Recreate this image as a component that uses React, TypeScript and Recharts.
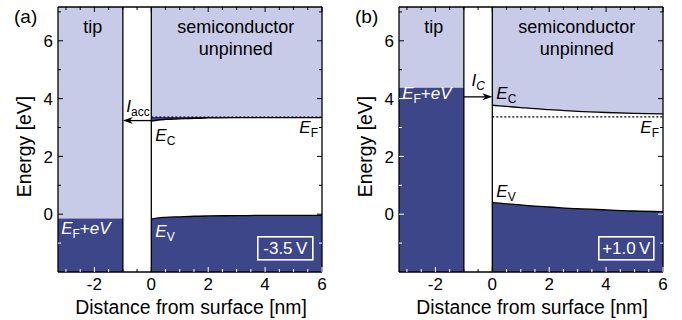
import React from "react"
import {
  ComposedChart,
  Area,
  Line,
  XAxis,
  YAxis,
  ReferenceArea,
  ReferenceLine,
  ReferenceDot,
  Label,
} from "recharts"

// axis ranges
const X_MIN = -3.28
const X_MAX = 6
const Y_MIN = -2
const Y_MAX = 7.17

const xTicks = [-3, -2.5, -2, -1.5, -1, -0.5, 0, 0.5, 1, 1.5, 2, 2.5, 3, 3.5, 4, 4.5, 5, 5.5, 6]
const xTickLabels = [-2, 0, 2, 4, 6]
const yTicks = [-1, 0, 1, 2, 3, 4, 5, 6, 7]
const yTickLabels = [0, 2, 4, 6]

// distance into semiconductor [nm]
const semiX = [0, 0.25, 0.5, 1, 1.5, 2, 3, 4, 5, 6]

// panel (a): -3.5 V
const ecA = [3.22, 3.26, 3.28, 3.3, 3.32, 3.33, 3.34, 3.34, 3.34, 3.34]
const evA = [-0.17, -0.13, -0.11, -0.09, -0.07, -0.06, -0.05, -0.04, -0.04, -0.04]

// panel (b): +1.0 V
const ecB = [3.77, 3.75, 3.73, 3.69, 3.65, 3.62, 3.56, 3.52, 3.49, 3.47]
const evB = [0.4, 0.38, 0.36, 0.32, 0.28, 0.25, 0.19, 0.15, 0.11, 0.09]

const efLevels = [3.36, 3.37]
const tipLevels = [-0.15, 4.38]
const biasLabels = ["-3.5\u2009V", "+1.0\u2009V"]
const panelLabels = ["(a)", "(b)"]

const LIGHT = "#c8cbe7"
const DARK = "#3c4689"
const FONT = "'Liberation Sans', Arial, Helvetica, sans-serif"

const sub = (s: string, italic = false) => (
  <tspan fontSize={12} dy={4} fontStyle={italic ? "italic" : "normal"}>
    {s}
  </tspan>
)

const textAt = (key: string, x: number, y: number, content: React.ReactNode, opts: any = {}) => (
  <ReferenceDot
    key={key}
    x={x}
    y={y}
    r={0}
    ifOverflow="visible"
    shape={(p: any) => (
      <text
        x={p.cx}
        y={p.cy}
        textAnchor={opts.anchor || "start"}
        fontSize={opts.size || 17}
        fill={opts.fill || "#000"}
      >
        {content}
      </text>
    )}
  />
)

// short inward tick drawn at a data point on the frame
const tickMark = (key: string, x: number, y: number, dx: number, dy: number, color: string) => (
  <ReferenceDot
    key={key}
    x={x}
    y={y}
    r={0}
    ifOverflow="visible"
    shape={(p: any) => (
      <line x1={p.cx} y1={p.cy} x2={p.cx + dx} y2={p.cy + dy} stroke={color} strokeWidth={1} />
    )}
  />
)

const arrowShape = (p: any) => {
  const { x1, y1, x2, y2 } = p
  const dir = Math.sign(x2 - x1)
  const len = 10
  const hw = 3.5
  const pts = [
    [x2, y2],
    [x2 - dir * len, y2 - hw],
    [x2 - dir * len * 0.7, y2],
    [x2 - dir * len, y2 + hw],
  ]
    .map((q) => q.join(","))
    .join(" ")
  return (
    <g>
      <line x1={x1} y1={y1} x2={x2 - dir * len * 0.7} y2={y2} stroke="#000" strokeWidth={1.3} />
      <polygon points={pts} fill="#000" />
    </g>
  )
}

const biasBox = (text: string) => (p: any) => (
  <g>
    <rect x={p.cx - 27.5} y={p.cy - 11.5} width={55} height={23} fill="none" stroke="#fff" strokeWidth={1.6} />
    <text x={p.cx} y={p.cy} dy="0.36em" textAnchor="middle" fill="#fff" fontSize={17}>
      {text}
    </text>
  </g>
)

function Panel({ idx, ec, ev }: { idx: number; ec: number[]; ev: number[] }) {
  const ef = efLevels[idx]
  const tip = tipLevels[idx]
  const data = semiX.map((x, i) => ({
    x,
    ec: ec[i],
    ev: ev[i],
    ef,
    upper: [ec[i], Y_MAX],
    lower: [Y_MIN, ev[i]],
    acc: [ec[i], Math.max(ec[i], ef)],
  }))
  const evEnd = ev[ev.length - 1]
  const isA = idx === 0

  const xLabel = (p: any) => {
    const v = p.payload.value
    if (!xTickLabels.includes(v)) return <g />
    return (
      <text x={p.x} y={p.y + 18} textAnchor="middle" fontSize={17} fill="#000">
        {v}
      </text>
    )
  }

  const yLabel = (p: any) => {
    const v = p.payload.value
    if (!yTickLabels.includes(v)) return <g />
    return (
      <text x={p.x - 5} y={p.y} dy="0.36em" textAnchor="end" fontSize={17} fill="#000">
        {v}
      </text>
    )
  }

  const marks: React.ReactNode[] = []
  xTicks.forEach((v) => {
    const len = xTickLabels.includes(v) ? 5 : 3
    const inBarrier = v >= -1 && v <= 0
    marks.push(tickMark(`xb${v}`, v, Y_MIN, 0, -len, inBarrier ? "#000" : "#fff"))
    marks.push(tickMark(`xt${v}`, v, Y_MAX, 0, len, "#000"))
  })
  yTicks.forEach((v) => {
    const len = yTickLabels.includes(v) ? 5 : 3
    marks.push(tickMark(`yl${v}`, X_MIN, v, len, 0, v < tip ? "#fff" : "#000"))
    marks.push(tickMark(`yr${v}`, X_MAX, v, -len, 0, v < evEnd ? "#fff" : "#000"))
  })

  return (
    <div style={{ position: "relative", width: 341, height: 320 }}>
      <ComposedChart width={341} height={320} data={data} margin={{ top: 7, right: 19, bottom: 0, left: 0 }}>
        <ReferenceArea x1={X_MIN} x2={-1} y1={tip} y2={Y_MAX} fill={LIGHT} fillOpacity={1} stroke="none" ifOverflow="hidden" />
        <ReferenceArea x1={X_MIN} x2={-1} y1={Y_MIN} y2={tip} fill={DARK} fillOpacity={1} stroke="none" ifOverflow="hidden" />
        <Area type="monotone" dataKey="upper" fill={LIGHT} fillOpacity={1} stroke="none" isAnimationActive={false} />
        <Area type="monotone" dataKey="lower" fill={DARK} fillOpacity={1} stroke="none" isAnimationActive={false} />
        <Area type="monotone" dataKey="acc" fill={DARK} fillOpacity={1} stroke="none" isAnimationActive={false} />
        <Line type="linear" dataKey="ef" stroke="#000" strokeWidth={1.2} strokeDasharray="2 2" dot={false} isAnimationActive={false} />
        <Line type="monotone" dataKey="ec" stroke="#000" strokeWidth={1.3} dot={false} isAnimationActive={false} />
        <Line type="monotone" dataKey="ev" stroke="#000" strokeWidth={1.3} dot={false} isAnimationActive={false} />
        <ReferenceLine x={-1} stroke="#000" strokeWidth={1.3} />
        <ReferenceLine x={0} stroke="#000" strokeWidth={1.3} />
        {isA ? (
          <ReferenceLine segment={[{ x: 0, y: 3.24 }, { x: -1, y: 3.24 }]} shape={arrowShape} />
        ) : (
          <ReferenceLine segment={[{ x: -1, y: 4.06 }, { x: 0, y: 4.06 }]} shape={arrowShape} />
        )}
        {marks}
        <ReferenceLine x={X_MIN} stroke="#000" strokeWidth={1.3} ifOverflow="visible" />
        <ReferenceLine x={X_MAX} stroke="#000" strokeWidth={1.3} ifOverflow="visible" />
        <ReferenceLine y={Y_MIN} stroke="#000" strokeWidth={1.3} ifOverflow="visible" />
        <ReferenceLine y={Y_MAX} stroke="#000" strokeWidth={1.3} ifOverflow="visible" />
        {textAt("tip", -2.06, 6.28, "tip", { anchor: "middle", size: 18 })}
        {textAt("semi", 2.97, 6.28, "semiconductor", { anchor: "middle", size: 18 })}
        {textAt("unp", 2.97, 5.52, "unpinned", { anchor: "middle", size: 18 })}
        {textAt(
          "efev",
          -3.17,
          isA ? -0.69 : 3.97,
          <>
            <tspan fontStyle="italic">E</tspan>
            {sub("F")}
            <tspan dy={-4}>+</tspan>
            <tspan fontStyle="italic">eV</tspan>
          </>,
          { fill: "#fff" }
        )}
        {isA
          ? textAt(
              "iacc",
              -0.88,
              3.55,
              <>
                <tspan fontStyle="italic">I</tspan>
                {sub("acc")}
              </>
            )
          : textAt(
              "ic",
              -0.73,
              4.42,
              <>
                <tspan fontStyle="italic">I</tspan>
                {sub("C", true)}
              </>
            )}
        {textAt(
          "ec",
          0.14,
          isA ? 2.53 : 3.97,
          <>
            <tspan fontStyle="italic">E</tspan>
            {sub("C")}
          </>
        )}
        {textAt(
          "ef",
          5.86,
          2.82,
          <>
            <tspan fontStyle="italic">E</tspan>
            {sub("F")}
          </>,
          { anchor: "end" }
        )}
        {textAt(
          "ev",
          0.14,
          isA ? -0.8 : 0.58,
          <>
            <tspan fontStyle="italic">E</tspan>
            {sub("V")}
          </>,
          { fill: isA ? "#fff" : "#000" }
        )}
        <ReferenceDot x={4.71} y={-1.18} r={0} shape={biasBox(biasLabels[idx])} />
        <XAxis
          type="number"
          dataKey="x"
          domain={[X_MIN, X_MAX]}
          allowDataOverflow
          ticks={xTicks}
          interval={0}
          height={48}
          tickSize={0}
          tickMargin={0}
          tickLine={false}
          axisLine={false}
          tick={xLabel}
        >
          <Label value="Distance from surface [nm]" position="center" dx={1} dy={11} fontSize={19.4} fill="#000" />
        </XAxis>
        <YAxis
          type="number"
          domain={[Y_MIN, Y_MAX]}
          allowDataOverflow
          ticks={yTicks}
          interval={0}
          width={58}
          tickSize={0}
          tickMargin={0}
          tickLine={false}
          axisLine={false}
          tick={yLabel}
        >
          <Label value="Energy [eV]" angle={-90} position="center" dx={-4.5} dy={7} fontSize={19.4} fill="#000" />
        </YAxis>
      </ComposedChart>
      <div style={{ position: "absolute", left: 14, top: 7, fontSize: 19, lineHeight: "19px" }}>{panelLabels[idx]}</div>
    </div>
  )
}

export default function App() {
  return (
    <div
      style={{
        position: "absolute",
        left: 0,
        top: 0,
        width: 682,
        height: 320,
        display: "flex",
        background: "#fff",
        fontFamily: FONT,
      }}
    >
      <Panel idx={0} ec={ecA} ev={evA} />
      <Panel idx={1} ec={ecB} ev={evB} />
    </div>
  )
}
